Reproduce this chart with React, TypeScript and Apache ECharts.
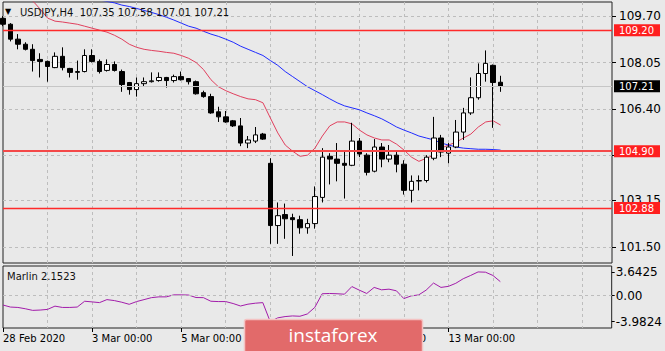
import React, { useEffect, useRef } from "react";
import * as echarts from "echarts";

// ---- data ----
const tradingDays = ["28 Feb", "2 Mar", "3 Mar", "4 Mar", "5 Mar", "6 Mar", "9 Mar", "10 Mar", "11 Mar", "12 Mar", "13 Mar", "16 Mar", "17 Mar", "18 Mar"];
const sessionHours = ["00:00", "04:00", "08:00", "12:00", "16:00", "20:00"];
const axisSlots = 83;
const labelledIndices = [0, 12, 24, 36, 48, 60];

const opens = [109.62, 109.41, 108.88, 108.70, 108.52, 108.16, 108.09, 107.87, 108.27, 107.84, 107.70, 107.73, 108.30, 108.09, 107.77, 107.98, 107.73, 107.34, 107.09, 107.30, 107.37, 107.41, 107.52, 107.41, 107.55, 107.48, 107.37, 106.98, 106.84, 106.30, 106.12, 105.98, 105.80, 105.19, 105.26, 105.51, 104.47, 102.26, 102.65, 102.54, 102.47, 102.18, 102.33, 103.26, 104.72, 104.62, 104.47, 104.40, 105.26, 104.76, 104.19, 105.05, 104.62, 104.76, 104.44, 103.51, 103.84, 103.86, 104.65, 105.37, 104.83, 105.05, 105.58, 106.26, 106.80, 107.66, 107.95, 107.35];
const closes = [109.41, 108.88, 108.70, 108.52, 108.12, 108.09, 107.91, 108.27, 107.87, 107.70, 107.73, 108.30, 108.09, 107.73, 107.98, 107.77, 107.27, 107.09, 107.30, 107.37, 107.40, 107.52, 107.41, 107.55, 107.44, 107.37, 106.94, 106.84, 106.26, 106.12, 105.94, 105.80, 105.19, 105.30, 105.48, 105.33, 102.26, 102.61, 102.50, 102.47, 102.18, 102.33, 103.29, 104.69, 104.62, 104.47, 104.40, 105.26, 104.80, 104.15, 105.05, 104.62, 104.76, 104.44, 103.51, 103.83, 103.86, 104.69, 105.37, 104.87, 105.05, 105.58, 106.26, 106.80, 107.66, 108.02, 107.34, 107.21];
const lows = [109.34, 108.80, 108.52, 108.48, 107.73, 107.52, 107.37, 107.85, 107.77, 107.52, 107.44, 107.70, 108.05, 107.66, 107.73, 107.73, 107.01, 106.91, 106.84, 107.19, 107.34, 107.37, 107.16, 107.34, 107.41, 107.27, 106.91, 106.80, 106.23, 105.94, 105.91, 105.76, 105.08, 105.01, 105.19, 105.30, 101.61, 101.61, 101.79, 101.18, 101.97, 101.97, 102.15, 103.08, 103.72, 103.83, 103.22, 104.37, 104.69, 104.04, 104.15, 104.33, 104.51, 104.15, 103.36, 103.08, 103.51, 103.79, 104.58, 104.69, 104.47, 105.01, 105.30, 106.19, 106.73, 107.37, 105.73, 107.01];
const highs = [109.70, 109.45, 109.06, 108.77, 108.70, 108.38, 108.12, 108.41, 108.59, 107.86, 108.12, 108.52, 108.52, 108.16, 108.16, 108.09, 107.80, 107.36, 107.52, 107.52, 107.70, 107.70, 107.54, 107.62, 107.73, 107.50, 107.41, 107.05, 106.94, 106.48, 106.33, 106.01, 106.08, 105.44, 105.76, 105.55, 104.65, 103.08, 103.04, 102.68, 102.61, 102.50, 103.65, 105.01, 104.83, 105.19, 104.90, 105.91, 105.37, 104.83, 105.33, 105.19, 105.12, 104.87, 104.58, 104.04, 104.04, 104.76, 106.12, 105.48, 105.19, 106.01, 106.44, 107.52, 108.02, 108.48, 107.98, 107.58];

const fastMA = [null, null, null, 110.45, 110.24, 109.95, 109.63, 109.52, 109.49, 109.45, 109.41, 109.34, 109.27, 109.20, 109.13, 109.02, 108.88, 108.70, 108.59, 108.52, 108.48, 108.45, 108.41, 108.38, 108.30, 108.20, 108.05, 107.80, 107.44, 107.19, 107.05, 106.94, 106.84, 106.76, 106.73, 106.62, 106.08, 105.55, 105.12, 104.90, 104.72, 104.76, 105.01, 105.44, 105.80, 105.94, 105.94, 105.87, 105.65, 105.48, 105.37, 105.30, 105.30, 105.15, 104.94, 104.69, 104.54, 104.65, 104.76, 105.01, 105.12, 105.22, 105.37, 105.51, 105.76, 105.94, 105.98, 105.83];
const slowMA = [null, null, null, null, null, null, null, null, null, null, null, null, 110.34, 110.27, 110.22, 110.17, 110.09, 110.04, 109.97, 109.90, 109.83, 109.75, 109.66, 109.56, 109.45, 109.34, 109.27, 109.16, 109.06, 108.98, 108.88, 108.77, 108.63, 108.52, 108.41, 108.30, 108.12, 107.95, 107.73, 107.55, 107.37, 107.19, 107.05, 106.91, 106.76, 106.62, 106.51, 106.44, 106.37, 106.26, 106.16, 106.05, 105.91, 105.76, 105.65, 105.55, 105.44, 105.37, 105.30, 105.19, 105.12, 105.05, 105.01, 104.99, 104.97, 104.97, 104.96, 104.94];

const marlin = [-1.43, -1.74, -1.8, -2.0, -2.25, -2.2, -2.1, -1.6, -1.8, -1.8, -1.74, -0.85, -0.95, -1.06, -0.6, -0.75, -1.0, -1.32, -0.9, -0.6, -0.3, -0.18, -0.18, 0.13, 0.13, 0.1, -0.28, -0.3, -0.85, -0.9, -0.9, -1.2, -1.58, -1.3, -1.15, -1.06, -3.98, -3.4, -3.2, -3.1, -3.15, -2.8, -1.8, 0.3, 0.34, 0.3, 0.23, 1.4, 0.85, 0.34, 1.27, 0.9, 1.0, 0.75, -0.44, -0.03, 0.12, 0.85, 1.94, 1.27, 1.43, 1.9, 2.6, 3.1, 3.6425, 3.6, 3.1, 2.1523];

const priceTicks = [109.7, 108.05, 106.4, 104.75, 103.15, 101.5];
const priceLabels = [109.7, 108.05, 106.4, 103.15, 101.5];
const marlinTicks = [3.6425, 0, -3.9824];
const levels = [109.2, 104.9, 102.88];
const symbol = "USDJPY,H4";
const indicatorName = "Marlin";

const BG = "#e9e9e9";
const FONT = "DejaVu Sans";

export default function App() {
  const ref = useRef<HTMLDivElement>(null);
  useEffect(() => {
    if (!ref.current) return;
    const chart = echarts.init(ref.current, null, { renderer: "svg" });
    const categories = Array.from({ length: axisSlots }, (_, i) => {
      const day = tradingDays[Math.floor(i / 6)];
      return i === 0 ? "28 Feb 2020" : `${day} ${sessionHours[i % 6]}`;
    });
    const last = opens.length - 1;
    const vGrid = (i: number) => i > 0 && i % 6 === 0;
    const isLabelled = (i: number) => labelledIndices.includes(i);
    const dash = { color: "#bdbdbd", type: [3, 3] as any, width: 1 };
    const priceLabel = (bg: string) => ({
      show: true,
      position: "end",
      distance: 2,
      backgroundColor: bg,
      color: "#ffffff",
      fontFamily: FONT,
      fontSize: 10,
      lineHeight: 11,
      padding: [1, 6, 0, 5],
    });

    chart.setOption({
      animation: false,
      backgroundColor: BG,
      textStyle: { fontFamily: FONT, fontSize: 10, color: "#000" },
      grid: [
        { left: 3, top: 2, width: 609, height: 261, show: true, borderColor: "#222", borderWidth: 1, backgroundColor: "transparent" },
        { left: 3, top: 266, width: 609, height: 62, show: true, borderColor: "#222", borderWidth: 1, backgroundColor: "transparent" },
      ],
      xAxis: [
        {
          type: "category", gridIndex: 0, data: categories, boundaryGap: false, position: "bottom",
          axisLine: { show: false, onZero: false }, axisTick: { show: false }, axisLabel: { show: false },
          splitLine: { show: true, interval: (i: number) => vGrid(i), lineStyle: dash },
        },
        {
          type: "category", gridIndex: 1, data: categories, boundaryGap: false, position: "bottom",
          axisLine: { show: false, onZero: false },
          axisTick: { show: true, interval: (i: number) => isLabelled(i), length: 4, lineStyle: { color: "#000" } },
          axisLabel: { show: true, interval: (i: number) => isLabelled(i), align: "left", margin: 5, color: "#000", fontSize: 10, fontFamily: FONT },
          splitLine: { show: true, interval: (i: number) => vGrid(i), lineStyle: dash },
        },
      ],
      yAxis: [
        {
          type: "value", gridIndex: 0, position: "right", min: 100.93, max: 110.2,
          axisLine: { show: false },
          axisTick: { show: true, customValues: priceTicks, length: 4, lineStyle: { color: "#000" } },
          axisLabel: { show: true, customValues: priceLabels, margin: 7, color: "#000", formatter: (v: number) => v.toFixed(2) },
          splitLine: { show: true, lineStyle: dash },
        },
        {
          type: "value", gridIndex: 1, position: "right", min: -4.95, max: 4.55,
          axisLine: { show: false },
          axisTick: { show: true, customValues: marlinTicks, length: 3, lineStyle: { color: "#000" } },
          axisLabel: { show: true, customValues: marlinTicks, margin: 4, color: "#000", formatter: (v: number) => (v === 0 ? "0.00" : String(v)) },
          splitLine: { show: false },
        },
      ],
      series: [
        {
          type: "line", xAxisIndex: 0, yAxisIndex: 0, data: fastMA, showSymbol: false, symbol: "none",
          lineStyle: { color: "#e0405e", width: 1 }, z: 3,
        },
        {
          type: "line", xAxisIndex: 0, yAxisIndex: 0, data: slowMA, showSymbol: false, symbol: "none",
          lineStyle: { color: "#1f2bff", width: 1 }, z: 3,
        },
        {
          type: "candlestick", xAxisIndex: 0, yAxisIndex: 0, barWidth: 5, z: 4,
          data: opens.map((o, i) => [o, closes[i], lows[i], highs[i]]),
          itemStyle: { color: "#ffffff", color0: "#000000", borderColor: "#000000", borderColor0: "#000000", borderWidth: 1 },
          markLine: {
            silent: true, symbol: ["none", "none"], animation: false,
            data: [
              { yAxis: closes[last], lineStyle: { color: "#c6c6c6", width: 1, type: "solid" }, label: { ...priceLabel("#000000"), formatter: closes[last].toFixed(2) } },
              ...levels.map((v, k) => ({
                yAxis: v,
                lineStyle: { color: k === 1 ? "#f44848" : "#ff2a2a", width: k === 1 ? 2 : 1.3, type: "solid" },
                label: { ...priceLabel("#ff1f1f"), formatter: v.toFixed(2) },
              })),
            ],
          },
        },
        {
          type: "line", xAxisIndex: 1, yAxisIndex: 1, data: marlin, showSymbol: false, symbol: "none",
          lineStyle: { color: "#a21caa", width: 1 },
          markLine: {
            silent: true, symbol: ["none", "none"], animation: false,
            label: { show: false },
            data: [{ yAxis: 0, lineStyle: dash }],
          },
        },
      ],
      graphic: [
        { type: "text", z: 100, left: 5, top: 7, style: { text: "▼", fontSize: 8, fill: "#000", fontFamily: FONT } },
        {
          type: "text", z: 100, x: 20, y: 12,
          style: {
            text: `${symbol}  ${opens[last].toFixed(2)} ${highs[last].toFixed(2)} ${lows[last].toFixed(2)} ${closes[last].toFixed(2)}`,
            fontSize: 10, fill: "#111", fontFamily: FONT, verticalAlign: "middle",
          },
        },
        {
          type: "text", z: 100, x: 7, y: 276,
          style: { text: `${indicatorName} ${marlin[marlin.length - 1].toFixed(4)}`, fontSize: 10, fill: "#111", fontFamily: FONT, verticalAlign: "middle" },
        },
        {
          type: "group", z: 100,
          children: [
            { type: "rect", z: 100, shape: { x: 244.5, y: 319.5, width: 178, height: 40, r: 2 }, style: { fill: "#e26a6a", stroke: "#f4c2c2", lineWidth: 1.5 } },
            { type: "text", z: 101, x: 333, y: 335, style: { text: "instaforex", fontSize: 19, fill: "#ffffff", fontFamily: "Open Sans", align: "center", verticalAlign: "middle" } },
          ],
        },
      ],
    });
    return () => chart.dispose();
  }, []);
  return <div ref={ref} style={{ position: "absolute", left: 0, top: 0, width: 665, height: 351 }} />;
}
